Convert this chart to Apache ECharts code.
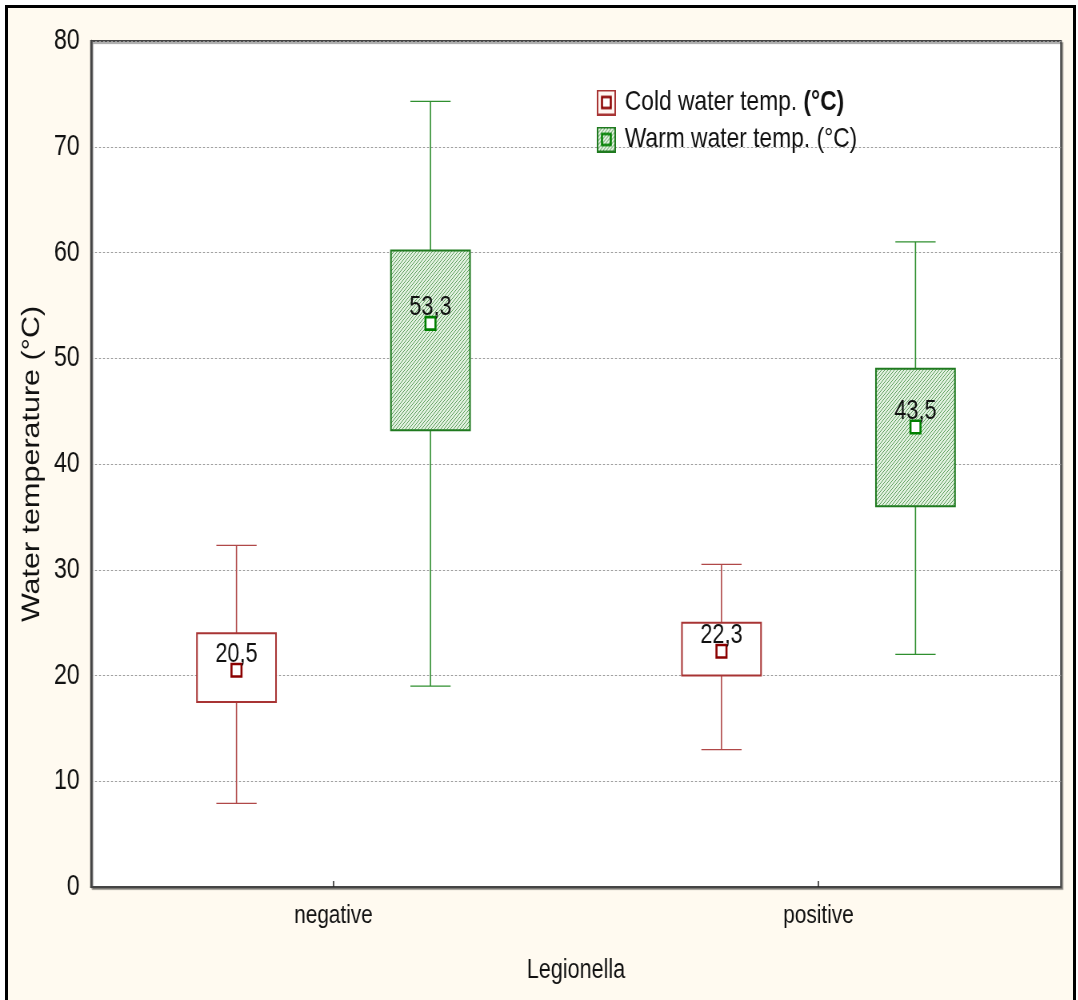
<!DOCTYPE html>
<html>
<head>
<meta charset="utf-8">
<script src="https://cdn.jsdelivr.net/npm/echarts@6/dist/echarts.min.js"></script>
<style>
  html, body { margin: 0; padding: 0; background: #ffffff; overflow: hidden; }
  #wrap { position: relative; width: 1078px; height: 1000px; overflow: hidden; background: #ffffff; }
  #frame { position: absolute; left: 5px; top: 5px; width: 1071px; height: 1010px; border: 3px solid #000; background: #fffaf0; box-sizing: border-box; }
  /* the reference picture is horizontally squeezed (about 0.8), so the chart is drawn wider and squeezed the same way */
  #chart { position: absolute; left: 0; top: 0; width: 1348px; height: 1000px; transform: scaleX(0.8); transform-origin: 0 0; }
</style>
</head>
<body>
<div id="wrap"><div id="frame"></div><div id="chart"></div></div>
<script>
// ---- data ----
const categories = ['negative', 'positive'];
const yTicks = [0, 10, 20, 30, 40, 50, 60, 70, 80];
const coldLow  = [7.9, 13.0];
const coldQ1   = [17.5, 20.0];
const coldQ3   = [24.0, 25.0];
const coldHigh = [32.3, 30.5];
const coldMean = [20.5, 22.3];
const warmLow  = [19.0, 22.0];
const warmQ1   = [43.2, 36.0];
const warmQ3   = [60.2, 49.0];
const warmHigh = [74.3, 61.0];
const warmMean = [53.3, 43.5];
const seriesNames = ['Cold water temp. (°C)', 'Warm water temp. (°C)'];

const FONT = "'Liberation Sans', Arial, sans-serif";

// hatch pattern
function makeHatch(bg, fg) {
  const c = document.createElement('canvas');
  c.width = 4; c.height = 4;
  const g = c.getContext('2d');
  g.fillStyle = bg; g.fillRect(0, 0, 4, 4);
  g.strokeStyle = fg; g.lineWidth = 1;
  g.beginPath();
  g.moveTo(-1, 5); g.lineTo(5, -1);
  g.moveTo(-1, 1); g.lineTo(1, -1);
  g.moveTo(3, 5); g.lineTo(5, 3);
  g.stroke();
  return c;
}
const hatchCanvas = makeHatch('#e2f1e0', '#5fa05f');

function makeIcon(kind) {
  const c = document.createElement('canvas');
  c.width = 24; c.height = 26;
  const g = c.getContext('2d');
  if (kind === 'cold') {
    g.fillStyle = '#fff6f2'; g.fillRect(0, 0, 24, 26);
    g.strokeStyle = '#a83434'; g.lineWidth = 2; g.strokeRect(1, 1, 22, 24);
    g.fillStyle = '#ffffff'; g.fillRect(6.5, 7.5, 11, 11);
    g.strokeStyle = '#8b0000'; g.lineWidth = 2.5; g.strokeRect(6.5, 7.5, 11, 11);
  } else {
    const p = g.createPattern(hatchCanvas, 'repeat');
    g.fillStyle = p; g.fillRect(0, 0, 24, 26);
    g.strokeStyle = '#1f7a1f'; g.lineWidth = 2; g.strokeRect(1, 1, 22, 24);
    g.strokeStyle = '#008000'; g.lineWidth = 2.5; g.strokeRect(6.5, 7.5, 11, 11);
  }
  return 'image://' + c.toDataURL();
}

function buildData(low, q1, q3, high, mean) {
  return categories.map((c, i) => [i, low[i], q1[i], q3[i], high[i], mean[i]]);
}

function makeRender(offset, lineColor, boxColor, markColor, hatched) {
  return function (params, api) {
    const idx = api.value(0);
    const band = api.size([1, 0])[0];
    const xc = api.coord([idx, 0])[0] + offset * band;
    const bw = 0.163 * band;
    const cw = 0.083 * band;
    const yLow = api.coord([idx, api.value(1)])[1];
    const yQ1 = api.coord([idx, api.value(2)])[1];
    const yQ3 = api.coord([idx, api.value(3)])[1];
    const yHigh = api.coord([idx, api.value(4)])[1];
    const mean = api.value(5);
    const yMean = api.coord([idx, mean])[1];
    const vStyle = { stroke: lineColor, lineWidth: 1.6, fill: null };
    const hStyle = { stroke: lineColor, lineWidth: 1.3, fill: null };
    const mw = 12.5, mh = 12.5;
    return {
      type: 'group',
      children: [
        { type: 'line', shape: { x1: xc, y1: yHigh, x2: xc, y2: yQ3 }, style: vStyle },
        { type: 'line', shape: { x1: xc, y1: yQ1, x2: xc, y2: yLow }, style: vStyle },
        { type: 'line', shape: { x1: xc - cw / 2, y1: yHigh, x2: xc + cw / 2, y2: yHigh }, style: hStyle },
        { type: 'line', shape: { x1: xc - cw / 2, y1: yLow, x2: xc + cw / 2, y2: yLow }, style: hStyle },
        { type: 'rect', shape: { x: xc - bw / 2, y: yQ3, width: bw, height: yQ1 - yQ3 },
          style: { fill: hatched ? { image: hatchCanvas, repeat: 'repeat' } : '#ffffff', stroke: boxColor, lineWidth: 2 } },
        { type: 'rect', shape: { x: xc - mw / 2, y: yMean - mh / 2, width: mw, height: mh },
          style: { fill: '#ffffff', stroke: markColor, lineWidth: 2.6 } },
        { type: 'text', x: xc, y: yMean - 2,
          style: { text: String(mean).replace('.', ','), fill: '#111', font: "27px " + FONT, align: 'center', verticalAlign: 'bottom' } }
      ]
    };
  };
}

const chart = echarts.init(document.getElementById('chart'), null, { renderer: 'canvas' });
chart.setOption({
  backgroundColor: 'transparent',
  animation: false,
  grid: {
    left: 113.75, right: 21.75, top: 41, bottom: 113,
    show: true, backgroundColor: '#ffffff', borderColor: '#444', borderWidth: 2,
    shadowColor: 'rgba(0,0,0,0.35)', shadowOffsetX: 2, shadowOffsetY: 2, shadowBlur: 1
  },
  legend: {
    orient: 'vertical', left: 741, top: 83, itemWidth: 24, itemHeight: 26, itemGap: 8,
    data: [
      { name: seriesNames[0], icon: makeIcon('cold') },
      { name: seriesNames[1], icon: makeIcon('warm') }
    ],
    formatter: function (name) {
      if (name === seriesNames[0]) return '{n|Cold water temp. }{b|(°C)}';
      return '{n|' + name + '}';
    },
    textStyle: {
      fontFamily: FONT, fontSize: 28.5, color: '#111', padding: [0, 0, 0, 6],
      rich: {
        n: { fontFamily: FONT, fontSize: 28.5, color: '#111' },
        b: { fontFamily: FONT, fontSize: 28.5, color: '#111', fontWeight: 'bold' }
      }
    }
  },
  xAxis: {
    type: 'category', data: categories, boundaryGap: true,
    name: 'Legionella', nameLocation: 'middle', nameGap: 70,
    nameTextStyle: { fontFamily: FONT, fontSize: 27, color: '#111' },
    axisLine: { lineStyle: { color: '#444', width: 2 } },
    axisTick: { show: true, inside: true, alignWithLabel: true, length: 6, lineStyle: { color: '#222', width: 1.5 } },
    axisLabel: { fontFamily: FONT, fontSize: 26, color: '#111', margin: 16 },
    splitLine: { show: false }
  },
  yAxis: {
    type: 'value', min: 0, max: 80, interval: 10,
    name: 'Water temperature (°C)', nameLocation: 'middle', nameGap: 57,
    nameTextStyle: { fontFamily: FONT, fontSize: 30.5, color: '#111' },
    axisLine: { show: true, lineStyle: { color: '#444', width: 2.5 } },
    axisTick: { show: false },
    axisLabel: { fontFamily: FONT, fontSize: 29, color: '#111', margin: 14,
      formatter: function (v) { return yTicks.indexOf(v) >= 0 ? String(v) : ''; } },
    splitLine: { show: true, lineStyle: { color: '#9a9a9a', type: [2.5, 2.5], width: 1 } }
  },
  series: [
    {
      name: seriesNames[0], type: 'custom', renderItem: makeRender(-0.2, '#b04848', '#a83434', '#8b0000', false),
      data: buildData(coldLow, coldQ1, coldQ3, coldHigh, coldMean), encode: { x: 0, y: [1, 2, 3, 4, 5] },
      itemStyle: { color: '#a83434' }, z: 3
    },
    {
      name: seriesNames[1], type: 'custom', renderItem: makeRender(0.2, '#2f8f2f', '#1f7a1f', '#008000', true),
      data: buildData(warmLow, warmQ1, warmQ3, warmHigh, warmMean), encode: { x: 0, y: [1, 2, 3, 4, 5] },
      itemStyle: { color: '#1f7a1f' }, z: 3
    }
  ]
});
</script>
</body>
</html>
